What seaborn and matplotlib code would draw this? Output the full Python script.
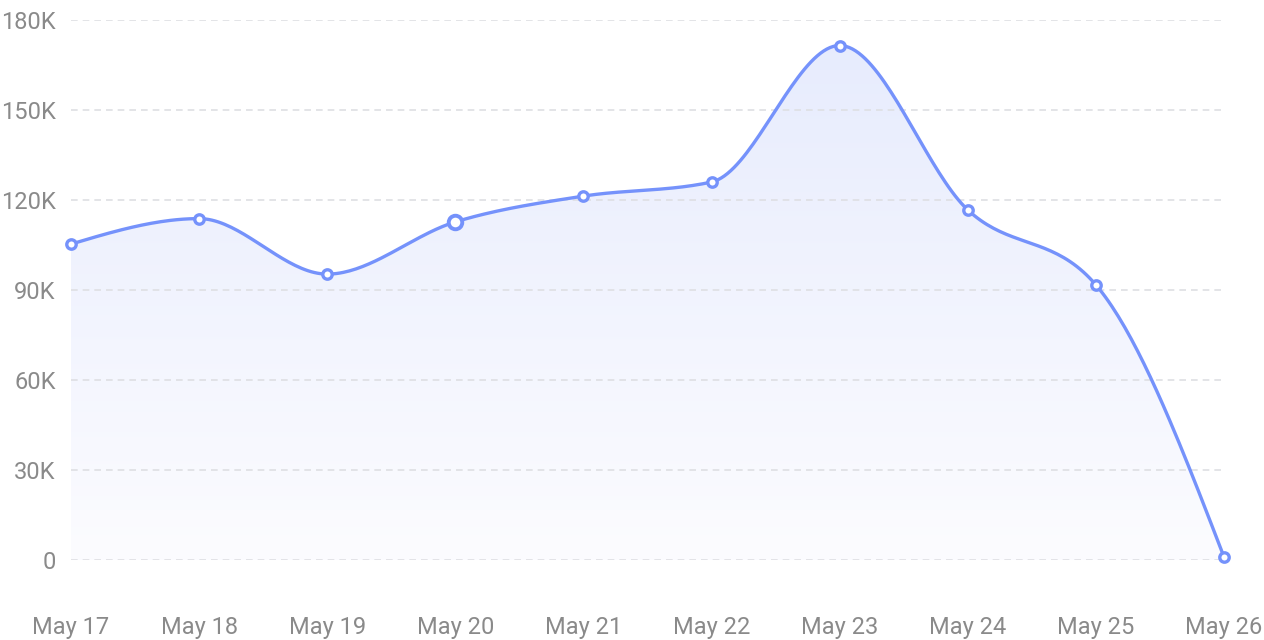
import matplotlib
matplotlib.use("Agg")
import matplotlib.pyplot as plt
import seaborn as sns
import numpy as np
import pandas as pd

days = ["May 17", "May 18", "May 19", "May 20", "May 21",
        "May 22", "May 23", "May 24", "May 25", "May 26"]
values = [105300, 113800, 95300, 112700, 121300,
          126000, 171500, 116700, 91700, 1000]
y_ticks = [0, 30000, 60000, 90000, 120000, 150000, 180000]
y_labels = ["0", "30K", "60K", "90K", "120K", "150K", "180K"]
highlight = "May 20"

line_color = "#7592fb"
text_color = "#8a8a8a"


def monotone_x(x, y, n=40):
    # same idea as d3.curveMonotoneX
    x = np.asarray(x, float)
    y = np.asarray(y, float)
    h = np.diff(x)
    s = np.diff(y) / h
    m = np.zeros_like(y)
    for i in range(1, len(y) - 1):
        if s[i - 1] * s[i] <= 0:
            m[i] = 0
        else:
            p = (s[i - 1] * h[i] + s[i] * h[i - 1]) / (h[i - 1] + h[i])
            m[i] = (np.sign(s[i - 1]) + np.sign(s[i])) * min(abs(s[i - 1]), abs(s[i]), 0.5 * abs(p))
    m[0] = (3 * s[0] - m[1]) / 2
    m[-1] = (3 * s[-1] - m[-2]) / 2
    xs, ys = [], []
    for i in range(len(x) - 1):
        t = np.linspace(0, 1, n, endpoint=False)
        h00 = 2 * t**3 - 3 * t**2 + 1
        h10 = t**3 - 2 * t**2 + t
        h01 = -2 * t**3 + 3 * t**2
        h11 = t**3 - t**2
        xs.append(x[i] + t * h[i])
        ys.append(h00 * y[i] + h10 * h[i] * m[i] + h01 * y[i + 1] + h11 * h[i] * m[i + 1])
    xs.append([x[-1]])
    ys.append([y[-1]])
    return np.concatenate(xs), np.concatenate(ys)


df = pd.DataFrame({"day": days, "value": values})
df["pos"] = np.arange(len(days))
sx, sy = monotone_x(df.pos, df.value)
smooth = pd.DataFrame({"pos": sx, "value": sy})

sns.set_style("white")
plt.rcParams["font.family"] = ["Roboto", "DejaVu Sans"]

fig = plt.figure(figsize=(12.64, 6.4), dpi=100)
ax = fig.add_axes([71 / 1264, 80 / 640, (1224 - 71) / 1264, 540 / 640])

ax.set_xlim(0, len(days) - 1)
ax.set_ylim(0, 180000)

# gradient fill under the curve
fill = ax.fill_between(smooth.pos, smooth.value, 0, color="none", lw=0)
grad = np.linspace(1, 0, 256).reshape(-1, 1)
cmap = matplotlib.colors.LinearSegmentedColormap.from_list(
    "g", ["#fcfcff", "#e6ebfd"])
img = ax.imshow(grad, cmap=cmap, aspect="auto", origin="upper",
                extent=[0, len(days) - 1, 0, 180000], zorder=1)
path = fill.get_paths()[0]
img.set_clip_path(path, transform=ax.transData)

for t in y_ticks:
    ax.axhline(t, color="#dedfe3", lw=1.2, ls=(0, (4, 3)), zorder=2)

sns.lineplot(data=smooth, x="pos", y="value", color=line_color,
             lw=2.4, ax=ax, zorder=3)
normal = df[df.day != highlight]
sns.scatterplot(data=normal, x="pos", y="value", ax=ax, s=46,
                facecolor="white", edgecolor=line_color, linewidth=2.4,
                zorder=4, clip_on=False)
sns.scatterplot(data=df[df.day == highlight], x="pos", y="value", ax=ax,
                s=95, facecolor="white", edgecolor=line_color,
                linewidth=2.8, zorder=4, clip_on=False)

ax.set_xticks(df.pos)
ax.set_xticklabels(days)
ax.set_yticks(y_ticks)
ax.set_yticklabels(y_labels)
ax.tick_params(axis="x", length=0, pad=40, labelsize=17, labelcolor=text_color)
ax.tick_params(axis="y", length=0, pad=11, labelsize=17, labelcolor=text_color)
ax.set_xlabel("")
ax.set_ylabel("")
for s in ax.spines.values():
    s.set_visible(False)

fig.savefig("out.png", dpi=100)
